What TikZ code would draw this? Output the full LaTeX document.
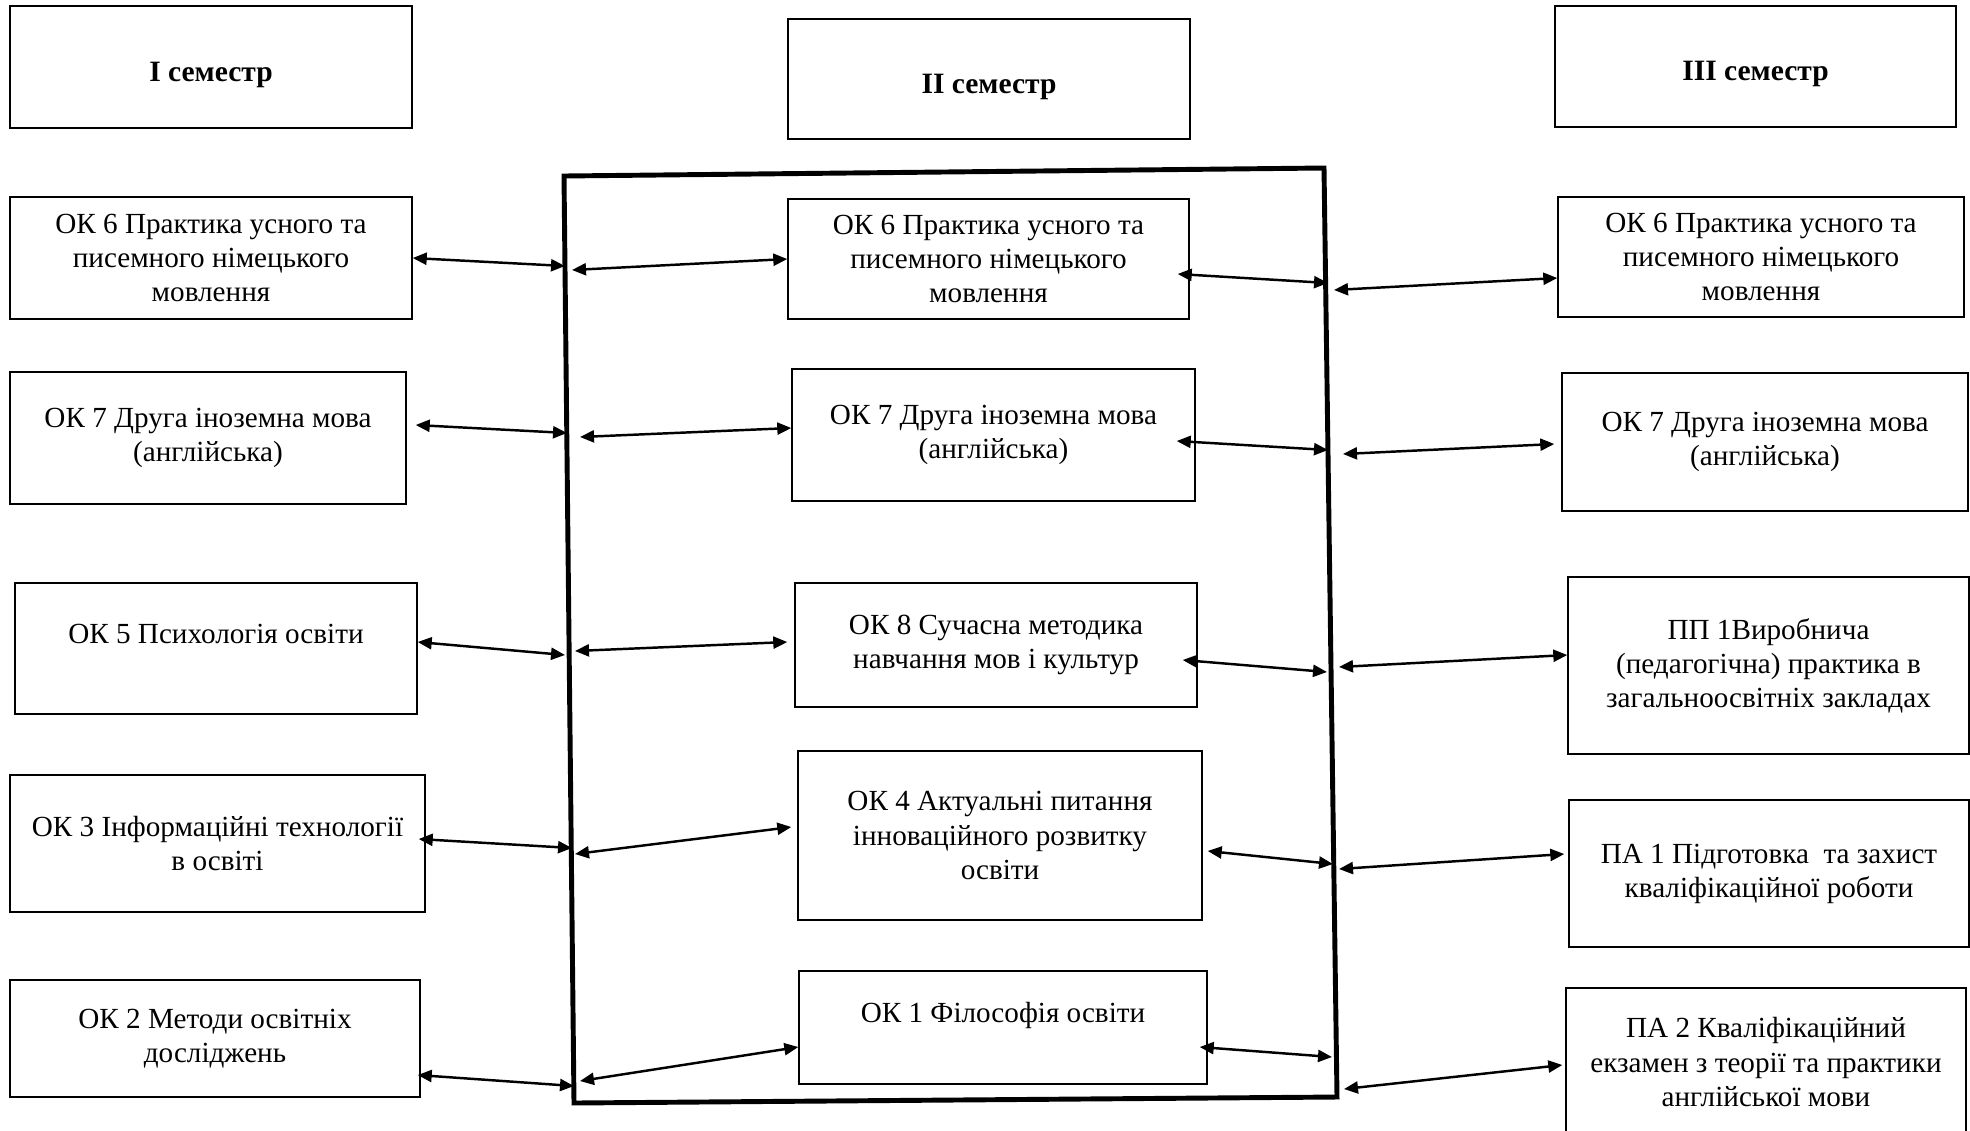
\documentclass[tikz,border=0pt]{standalone}
\usepackage{fontspec}
\setmainfont{Liberation Serif}
\usetikzlibrary{arrows.meta}

\tikzset{
  box/.style 2 args={draw, line width=0.4pt, align=center, inner sep=0pt,
    minimum width=#1mm, minimum height=#2mm, font=\fontsize{8.3}{9.7}\selectfont},
  head/.style={font=\fontsize{8.4}{9.7}\selectfont\bfseries, text height=2.8mm, text depth=0mm},
  uptext/.style={text depth=3mm},
  arr/.style={<->, line width=0.7pt},
  frame/.style={line width=1.4pt, line join=miter}
}

\begin{document}
\begin{tikzpicture}[x=0.1mm, y=-0.1mm, >={Triangle[length=1.4mm,width=1.2mm]}]
	\useasboundingbox (0,0) rectangle (1970,1130);

	%semesters
	\node[box={40.2}{12.2}, head] (h1) at (211,67) {I семестр};
	\node[box={40.2}{12.0}, head] (h2) at (989,79) {II семестр};
	\node[box={40.1}{12.1}, head] (h3) at (1755.5,66.5) {III семестр};

	%I semester
	\node[box={40.2}{12.2}] (l1) at (211,258) {ОК 6 Практика усного та\\писемного німецького\\мовлення};
	\node[box={39.6}{13.2}] (l2) at (208,438) {ОК 7 Друга іноземна мова\\(англійська)};
	\node[box={40.2}{13.1}, uptext] (l3) at (216,648.5) {ОК 5 Психологія освіти};
	\node[box={41.5}{13.7}] (l4) at (217.5,843.5) {ОК 3 Інформаційні технології\\в освіті};
	\node[box={41.0}{11.7}] (l5) at (215,1038.5) {ОК 2 Методи освітніх\\досліджень};

	%II semester
	\node[box={40.1}{12.0}] (m1) at (988.5,259) {ОК 6 Практика усного та\\писемного німецького\\мовлення};
	\node[box={40.3}{13.2}] (m2) at (993.5,435) {ОК 7 Друга іноземна мова\\(англійська)};
	\node[box={40.2}{12.4}] (m3) at (996,645) {ОК 8 Сучасна методика\\навчання мов і культур};
	\node[box={40.4}{16.9}] (m4) at (1000,835.5) {ОК 4 Актуальні питання\\інноваційного розвитку\\освіти};
	\node[box={40.8}{11.3}, uptext] (m5) at (1003,1027.5) {ОК 1 Філософія освіти};

	%III semester
	\node[box={40.6}{12.0}] (r1) at (1761,257) {ОК 6 Практика усного та\\писемного німецького\\мовлення};
	\node[box={40.6}{13.8}] (r2) at (1765,442) {ОК 7 Друга іноземна мова\\(англійська)};
	\node[box={40.1}{17.7}] (r3) at (1768.5,665.5) {ПП 1Виробнича\\(педагогічна) практика в\\загальноосвітніх закладах};
	\node[box={40.0}{14.7}] (r4) at (1769,873.5) {ПА 1 Підготовка\ \ та захист\\кваліфікаційної роботи};
	\node[box={40.0}{14.8}] (r5) at (1766,1062) {ПА 2 Кваліфікаційний\\екзамен з теорії та практики\\англійської мови};

	%frame round II semester
	\coordinate (fa) at (564,176);
	\coordinate (fb) at (1324,168);
	\coordinate (fc) at (1337,1097);
	\coordinate (fd) at (574,1103);
	\draw[frame] (fa) -- (fb) -- (fc) -- (fd) -- cycle;

	%points on the frame
	\coordinate (p1a) at (565,266); \coordinate (p1b) at (572,270); \coordinate (p1c) at (1328,283); \coordinate (p1d) at (1334,290);
	\coordinate (p2a) at (567,433); \coordinate (p2b) at (580,437); \coordinate (p2c) at (1328,450); \coordinate (p2d) at (1343,454);
	\coordinate (p3a) at (565,655); \coordinate (p3b) at (575,651); \coordinate (p3c) at (1327,672); \coordinate (p3d) at (1339,667);
	\coordinate (p4a) at (572,848); \coordinate (p4b) at (575,854); \coordinate (p4c) at (1333,864); \coordinate (p4d) at (1339,869);
	\coordinate (p5a) at (574,1086); \coordinate (p5b) at (580,1081); \coordinate (p5c) at (1332,1057); \coordinate (p5d) at (1344,1089);

	%arrows row 1
	\draw[arr] (l1.east) -- (p1a);
	\draw[arr] (p1b) -- (m1.west);
	\draw[arr] ([xshift=-1.2mm,yshift=-1.5mm]m1.east) -- (p1c);
	\draw[arr] (p1d) -- ([yshift=-2.1mm]r1.west);

	%arrows row 2
	\draw[arr] ([xshift=0.9mm,yshift=1.3mm]l2.east) -- (p2a);
	\draw[arr] (p2b) -- ([yshift=0.7mm]m2.west);
	\draw[arr] ([xshift=-1.9mm,yshift=-0.6mm]m2.east) -- (p2c);
	\draw[arr] (p2d) -- ([xshift=-0.7mm,yshift=-0.2mm]r2.west);

	%arrows row 3
	\draw[arr] ([yshift=0.65mm]l3.east) -- (p3a);
	\draw[arr] (p3b) -- ([xshift=-0.7mm,yshift=0.3mm]m3.west);
	\draw[arr] ([xshift=-1.5mm,yshift=-1.5mm]m3.east) -- (p3c);
	\draw[arr] (p3d) -- ([yshift=1.05mm]r3.west);

	%arrows row 4
	\draw[arr] ([xshift=-0.7mm,yshift=0.45mm]l4.east) -- (p4a);
	\draw[arr] (p4b) -- ([xshift=-0.6mm,yshift=0.85mm]m4.west);
	\draw[arr] ([xshift=0.5mm,yshift=-1.55mm]m4.east) -- (p4c);
	\draw[arr] (p4d) -- ([xshift=-0.4mm,yshift=1.95mm]r4.west);

	%arrows row 5
	\draw[arr] ([xshift=-0.3mm,yshift=-3.65mm]l5.east) -- (p5a);
	\draw[arr] (p5b) -- ([yshift=-1.95mm]m5.west);
	\draw[arr] ([xshift=-0.8mm,yshift=-1.95mm]m5.east) -- (p5c);
	\draw[arr] (p5d) -- ([xshift=-0.3mm,yshift=-0.3mm]r5.west);
\end{tikzpicture}
\end{document}
